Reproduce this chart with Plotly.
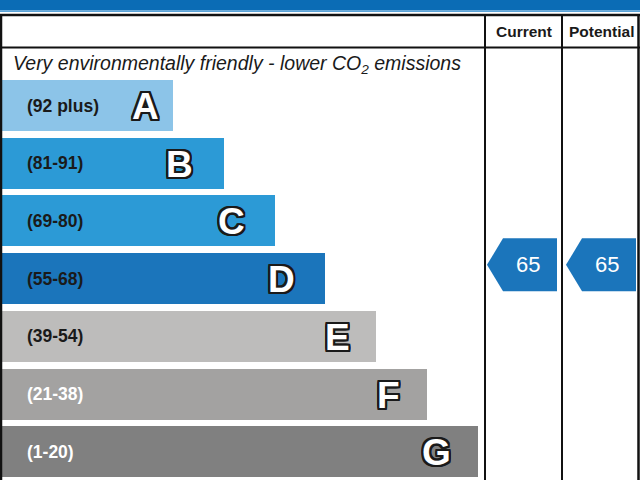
import plotly.graph_objects as go

# ---- data ----
bands = ["A", "B", "C", "D", "E", "F", "G"]
band_ranges = ["(92 plus)", "(81-91)", "(69-80)", "(55-68)", "(39-54)", "(21-38)", "(1-20)"]
band_hi = [100, 91, 80, 68, 54, 38, 20]
band_lo = [92, 81, 69, 55, 39, 21, 1]
band_colors = ["#8cc4e8", "#2c9ad6", "#2c9ad6", "#1b75bb", "#bdbcbb", "#a3a2a1", "#808080"]
label_colors = ["#1a1a1a", "#1a1a1a", "#1a1a1a", "#1a1a1a", "#1a1a1a", "#ffffff", "#ffffff"]
current_value = 65
potential_value = 65
header_title = "Environmental Impact (CO<sub>2</sub>) Rating"
top_text = "<i>Very environmentally friendly - lower CO<sub>2</sub> emissions</i>"
col_titles = ["Current", "Potential"]

# ---- layout geometry (pixels) ----
W, H = 640, 480
band_top0 = 80
band_step = 57.7
band_h = 51
bar_left = 2
bar_end0 = 173
bar_end_step = 50.8
letter_offsets = [28, 44, 43, 44, 39, 39, 41]
col1_x = 485
col2_x = 562

centers = [band_top0 + band_h / 2 + band_step * i for i in range(len(bands))]
lengths = [bar_end0 + bar_end_step * i - bar_left for i in range(len(bands))]

fig = go.Figure()
fig.add_trace(go.Bar(
    y=centers, x=lengths, base=bar_left, orientation="h",
    width=band_h, marker=dict(color=band_colors, line=dict(width=0)),
    hoverinfo="skip", showlegend=False,
))

ann = []
oc = "#1a1a1a"
d = 2
outline = ", ".join("%gpx %gpx 0 %s" % (dx, dy, oc) for dx, dy in
                    [(-d, -d), (d, -d), (-d, d), (d, d), (0, d), (0, -d), (d, 0), (-d, 0),
                     (-1, -d), (1, -d), (-1, d), (1, d), (d, 1), (d, -1), (-d, 1), (-d, -1)])
for i, b in enumerate(bands):
    ann.append(dict(x=25, y=centers[i], text="<b>%s</b>" % band_ranges[i], xanchor="left",
                    yanchor="middle", showarrow=False,
                    font=dict(family="Liberation Sans", size=17.5, color=label_colors[i])))
    ann.append(dict(x=bar_left + lengths[i] - letter_offsets[i], y=centers[i] + 1, text="<b>%s</b>" % b,
                    xanchor="center", yanchor="middle", showarrow=False,
                    font=dict(family="Liberation Sans", size=37, color="#ffffff", shadow=outline)))

ann.append(dict(x=11, y=64, text=top_text, xanchor="left", yanchor="middle", showarrow=False,
                font=dict(family="Liberation Sans", size=19.5, color="#1a1a1a")))
ann.append(dict(x=(col1_x + col2_x) / 2, y=31, text="<b>%s</b>" % col_titles[0], showarrow=False,
                font=dict(family="Liberation Sans", size=15.5, color="#1a1a1a")))
ann.append(dict(x=(col2_x + W) / 2, y=31, text="<b>%s</b>" % col_titles[1], showarrow=False,
                font=dict(family="Liberation Sans", size=15.5, color="#1a1a1a")))
ann.append(dict(x=0.5, xref="paper", y=1 - 4 / H, yref="paper", yanchor="bottom",
                text="<b>%s</b>" % header_title, showarrow=False,
                font=dict(family="Liberation Sans", size=30, color="#ffffff")))


def value_y(v):
    for i in range(len(bands)):
        if band_lo[i] <= v <= band_hi[i]:
            top = band_top0 + band_step * i
            return top + (band_hi[i] - v) / (band_hi[i] - band_lo[i]) * band_h
    return centers[-1]


def arrow(x0, value, label):
    yc = value_y(value)
    hh = 26.5
    xs = [x0, x0 + 16, x0 + 70, x0 + 70, x0 + 16, x0]
    ys = [yc, yc - hh, yc - hh, yc + hh, yc + hh, yc]
    fig.add_trace(go.Scatter(x=xs, y=ys, fill="toself", fillcolor="#1b75bb", mode="lines",
                             line=dict(width=0, color="#1b75bb"), hoverinfo="skip", showlegend=False))
    ann.append(dict(x=x0 + 41, y=yc, text=str(label), showarrow=False,
                    font=dict(family="Liberation Sans", size=22, color="#ffffff")))


arrow(col1_x + 2, current_value, current_value)
arrow(col2_x + 4, potential_value, potential_value)

shapes = [
    dict(type="rect", x0=0, x1=W, y0=0, y1=10.5, fillcolor="#0b6cb5", line=dict(width=0), layer="below"),
    dict(type="rect", x0=0, x1=W, y0=10.5, y1=12, fillcolor="#5aa3d8", line=dict(width=0), layer="below"),
    dict(type="line", x0=0, x1=W, y0=15, y1=15, line=dict(color="#111", width=2.5)),
    dict(type="line", x0=0, x1=W, y0=47.5, y1=47.5, line=dict(color="#111", width=2)),
    dict(type="line", x0=1, x1=1, y0=15, y1=H, line=dict(color="#111", width=2.5)),
    dict(type="line", x0=638.5, x1=638.5, y0=15, y1=H, line=dict(color="#111", width=2.5)),
    dict(type="line", x0=col1_x, x1=col1_x, y0=15, y1=H, line=dict(color="#111", width=2)),
    dict(type="line", x0=col2_x, x1=col2_x, y0=15, y1=H, line=dict(color="#111", width=2)),
]

fig.update_layout(
    width=W, height=H, margin=dict(l=0, r=0, t=0, b=0),
    paper_bgcolor="white", plot_bgcolor="white",
    xaxis=dict(range=[0, W], visible=False, fixedrange=True),
    yaxis=dict(range=[H, 0], visible=False, fixedrange=True),
    shapes=shapes, annotations=ann, bargap=0,
)
fig.write_html("out.html", config=dict(displayModeBar=False),
               post_script="document.body.style.margin='0';document.body.style.overflow='hidden';")
